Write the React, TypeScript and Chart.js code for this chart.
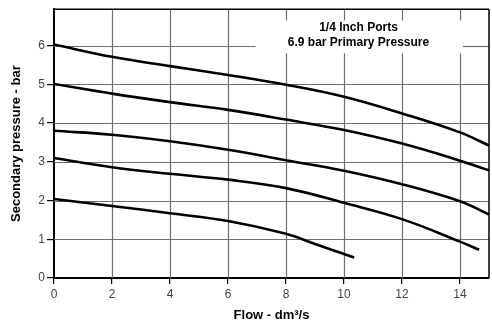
import React, { useEffect, useRef } from "react";
import { Chart, registerables } from "chart.js";

Chart.register(...registerables);

const flowA = [0, 2, 4, 6, 8, 10, 12, 14, 15];
const curve1 = [6.03, 5.71, 5.47, 5.24, 4.99, 4.68, 4.25, 3.76, 3.42];
const curve2 = [5.01, 4.76, 4.54, 4.34, 4.09, 3.82, 3.47, 3.03, 2.78];
const curve3 = [3.8, 3.7, 3.53, 3.31, 3.04, 2.77, 2.42, 1.98, 1.64];
const flow4 = [0, 2, 4, 6, 8, 10, 12, 14, 14.66];
const curve4 = [3.1, 2.86, 2.69, 2.54, 2.32, 1.94, 1.52, 0.94, 0.73];
const flow5 = [0, 2, 4, 6, 8, 9, 10.35];
const curve5 = [2.04, 1.86, 1.67, 1.47, 1.14, 0.88, 0.53];

const xTicks = [0, 2, 4, 6, 8, 10, 12, 14];
const yTicks = [0, 1, 2, 3, 4, 5, 6];

const noteLines = ["1/4 Inch Ports", "6.9 bar Primary Pressure"];
// note area (in data units) that the grid lines skip
const noteBox = { x0: 6.95, x1: 14.1, y0: 5.8, y1: 6.65 };
const noteX = 10.5;
const noteY = [6.46, 6.08];

const toPts = (xs: number[], ys: number[]) => xs.map((x, i) => ({ x, y: ys[i] }));

const seg = (ctx: any, x1: number, y1: number, x2: number, y2: number) => {
  ctx.beginPath();
  ctx.moveTo(x1, y1);
  ctx.lineTo(x2, y2);
  ctx.stroke();
};

const notePlugin = {
  id: "note",
  beforeDatasetsDraw(chart: any) {
    const { ctx, scales, chartArea } = chart;
    const xs = scales.x, ys = scales.y;
    const bl = xs.getPixelForValue(noteBox.x0);
    const br = xs.getPixelForValue(noteBox.x1);
    const bt = ys.getPixelForValue(noteBox.y1);
    const bb = ys.getPixelForValue(noteBox.y0);
    ctx.save();
    ctx.lineWidth = 1.2;
    ctx.strokeStyle = "#6e6e6e";
    for (const v of xTicks) {
      if (v === 0) continue;
      const px = Math.round(xs.getPixelForValue(v)) + 0.5;
      if (px > bl && px < br) {
        seg(ctx, px, chartArea.top, px, bt);
        seg(ctx, px, bb, px, chartArea.bottom);
      } else {
        seg(ctx, px, chartArea.top, px, chartArea.bottom);
      }
    }
    for (const v of yTicks) {
      if (v === 0) continue;
      const py = Math.round(ys.getPixelForValue(v)) + 0.5;
      if (py > bt && py < bb) {
        seg(ctx, chartArea.left, py, bl, py);
        seg(ctx, br, py, chartArea.right, py);
      } else {
        seg(ctx, chartArea.left, py, chartArea.right, py);
      }
    }
    ctx.restore();
  },
  afterDatasetsDraw(chart: any) {
    const { ctx, scales, chartArea } = chart;
    ctx.save();
    ctx.fillStyle = "#000";
    ctx.font = "bold 12px 'Liberation Sans', Arial, sans-serif";
    ctx.textAlign = "center";
    ctx.textBaseline = "middle";
    noteLines.forEach((s, i) => {
      ctx.fillText(s, scales.x.getPixelForValue(noteX), scales.y.getPixelForValue(noteY[i]));
    });
    ctx.strokeStyle = "#000";
    ctx.lineWidth = 1.5;
    seg(ctx, chartArea.left, chartArea.top, chartArea.right, chartArea.top);
    seg(ctx, chartArea.right, chartArea.top, chartArea.right, chartArea.bottom);
    ctx.restore();
  },
};

export default function App() {
  const ref = useRef<HTMLCanvasElement | null>(null);
  useEffect(() => {
    if (!ref.current) return;
    const ds = (data: any[]) => ({
      data,
      borderColor: "#000",
      borderWidth: 2.6,
      pointRadius: 0,
      fill: false,
      tension: 0.4,
    });
    const tickFont = { family: "'Liberation Sans', Arial, sans-serif", size: 12 };
    const titleFont = { family: "'Liberation Sans', Arial, sans-serif", size: 13, weight: "bold" as const };
    const chart = new Chart(ref.current, {
      type: "line",
      data: {
        datasets: [
          ds(toPts(flowA, curve1)),
          ds(toPts(flowA, curve2)),
          ds(toPts(flowA, curve3)),
          ds(toPts(flow4, curve4)),
          ds(toPts(flow5, curve5)),
        ],
      },
      options: {
        animation: false,
        responsive: true,
        maintainAspectRatio: false,
        layout: { padding: { left: 0, right: 3, top: 5, bottom: 0 } },
        plugins: { legend: { display: false }, tooltip: { enabled: false } },
        scales: {
          x: {
            type: "linear",
            min: 0,
            max: 15,
            afterBuildTicks: (s: any) => {
              s.ticks = xTicks.map((v) => ({ value: v }));
            },
            afterFit: (s: any) => {
              s.height = 46;
            },
            grid: { drawOnChartArea: false, color: "#000", lineWidth: 1.2, tickLength: 6, tickColor: "#000" },
            border: { display: true, color: "#000", width: 2 },
            ticks: { color: "#444", font: tickFont, padding: 3, maxRotation: 0 },
            title: {
              display: true,
              text: "Flow - dm³/s",
              color: "#000",
              font: titleFont,
              padding: { top: 0, bottom: 1 },
            },
          },
          y: {
            type: "linear",
            min: 0,
            max: 6.94,
            afterBuildTicks: (s: any) => {
              s.ticks = yTicks.map((v) => ({ value: v }));
            },
            afterFit: (s: any) => {
              s.width = 54;
            },
            grid: { drawOnChartArea: false, color: "#000", lineWidth: 1.2, tickLength: 7, tickColor: "#000" },
            border: { display: true, color: "#000", width: 2 },
            ticks: { color: "#444", font: tickFont, padding: 2 },
            title: {
              display: true,
              text: "Secondary pressure - bar",
              color: "#000",
              font: titleFont,
              padding: { top: 9, bottom: 0 },
            },
          },
        },
      },
      plugins: [notePlugin],
    });
    return () => chart.destroy();
  }, []);
  return (
    <div style={{ position: "fixed", left: 0, top: 0, width: 492, height: 324, background: "#fff" }}>
      <canvas ref={ref} />
    </div>
  );
}
